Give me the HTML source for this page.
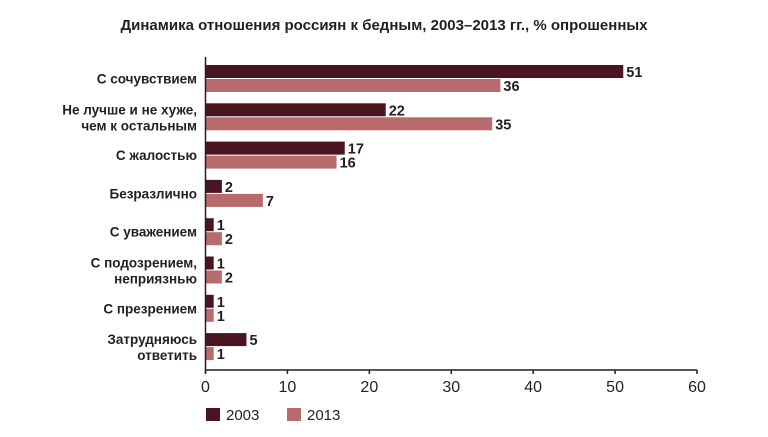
<!DOCTYPE html>
<html><head><meta charset="utf-8"><style>
body{margin:0;background:#fff;}
svg text{font-family:"Liberation Sans",sans-serif;fill:#231f20;}
</style></head><body>
<svg width="768" height="432" viewBox="0 0 768 432">
<text x="384" y="30" text-anchor="middle" font-size="15" font-weight="bold">Динамика отношения россиян к бедным, 2003–2013 гг., % опрошенных</text>
<g id="bars"></g>
<g id="axis"></g>
<g>
<rect x="206" y="408" width="14" height="13" fill="#4a1520"/>
<text x="226" y="420" font-size="15">2003</text>
<rect x="287" y="408" width="14" height="13" fill="#b86a6c"/>
<text x="307" y="420" font-size="15">2013</text>
</g>
</svg>
<script>
const categories=[["С сочувствием"],["Не лучше и не хуже,","чем к остальным"],["С жалостью"],["Безразлично"],["С уважением"],["С подозрением,","неприязнью"],["С презрением"],["Затрудняюсь","ответить"]];
const values2003=[51,22,17,2,1,1,1,5];
const values2013=[36,35,16,7,2,2,1,1];
const ticks=[0,10,20,30,40,50,60];
const NS="http://www.w3.org/2000/svg";
const x0=205.5,x1=697,axMax=60,y0=65,step=38.3,bh=13;
const xs=v=>x0+(x1-x0)*v/axMax;
const ys=i=>y0+i*step;
const bars=document.getElementById('bars'),axis=document.getElementById('axis');
function mk(tag,attrs,parent){const e=document.createElementNS(NS,tag);for(const k in attrs)e.setAttribute(k,attrs[k]);parent.appendChild(e);return e;}
categories.forEach((lines,i)=>{
  const y=ys(i);
  const r1=mk('rect',{x:x0,y:y,width:xs(values2003[i])-x0,height:bh,fill:'#4a1520'},bars);
  
  
  const r2=mk('rect',{x:x0,y:y+bh+1,width:xs(values2013[i])-x0,height:bh,fill:'#b86a6c'},bars);
  
  
  const t1=mk('text',{x:xs(values2003[i])+3,y:y+12,'font-size':14.5,'font-weight':'bold'},bars);t1.textContent=values2003[i];
  
  
  const t2=mk('text',{x:xs(values2013[i])+3,y:y+bh+13,'font-size':14.5,'font-weight':'bold'},bars);t2.textContent=values2013[i];
  
  
  const cy=y+bh+1;
  const lbl=mk('text',{x:197,'text-anchor':'end','font-size':13.5,'font-weight':'bold'},bars);
  
  
  if(lines.length===1){lbl.setAttribute('y',cy+4.5);lbl.textContent=lines[0];}
  else{lines.forEach((s,j)=>{const ts=mk('tspan',{x:197,y:cy-3+j*16},lbl);ts.textContent=s;});}
});
mk('line',{x1:x0,y1:57,x2:x0,y2:373,stroke:'#231f20','stroke-width':1.5},axis);
mk('line',{x1:x0,y1:370,x2:x1,y2:370,stroke:'#231f20','stroke-width':1.5},axis);
ticks.forEach(t=>{
  mk('line',{x1:xs(t),y1:370,x2:xs(t),y2:374,stroke:'#231f20','stroke-width':1.5},axis);
  const tl=mk('text',{x:xs(t),y:392,'text-anchor':'middle','font-size':16},axis);tl.textContent=t;
  
  
});
</script>
</body></html>
